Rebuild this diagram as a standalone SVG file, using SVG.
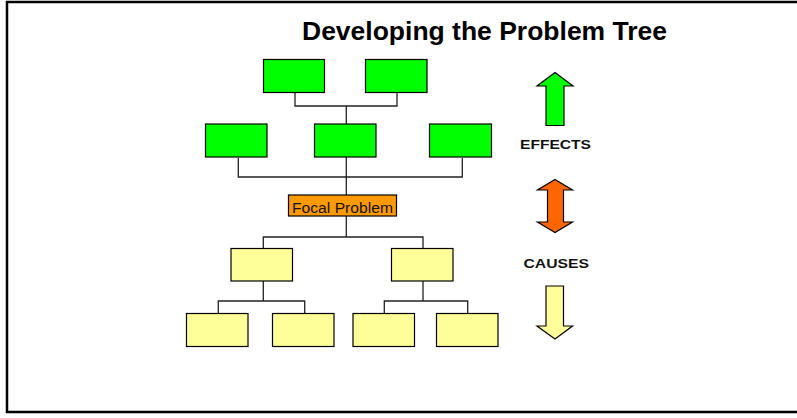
<svg xmlns="http://www.w3.org/2000/svg" width="797" height="418" viewBox="0 0 797 418">
<style>
.box{stroke:#000;stroke-width:1.2}
.g{fill:#00FF00}
.y{fill:#FFFF99}
.o{fill:#FF9900}
.conn{fill:none;stroke:#222;stroke-width:1.3}
.arrow{stroke:#000;stroke-width:1.2;stroke-linejoin:miter}
.lbl{font-family:"Liberation Sans",Arial,sans-serif;font-weight:bold;font-size:13.5px;fill:#111}
</style>
<rect width="797" height="418" fill="#fff"/>
<g id="frame" fill="none" stroke="#000" stroke-width="2.5">
<path d="M800,2 L7,2 L7,412 L800,412"/>
</g>
<text id="title" x="302" y="39.5" font-family="'Liberation Sans',Arial,sans-serif" font-weight="bold" font-size="26.5" textLength="365" lengthAdjust="spacingAndGlyphs" fill="#000">Developing the Problem Tree</text>
<g id="connectors" class="conn">
<path d="M295,93 V106 H397 V93 M346.3,106 V124"/>
<path d="M238.3,158 V177 H462.3 V158 M346.3,157 V195"/>
<path d="M346.3,216 V237 M263.3,248 V237 H423 V248"/>
<path d="M263.3,281 V301 M218.3,313 V301 H304.7 V313"/>
<path d="M423,281 V301 M384.3,313 V301 H467.7 V313"/>
</g>
<g id="e1"><rect class="box g" x="263.5" y="59.5" width="61" height="33"/></g>
<g id="e2"><rect class="box g" x="365.5" y="59.5" width="61.5" height="33"/></g>
<g id="e3"><rect class="box g" x="205.5" y="124" width="61.5" height="33"/></g>
<g id="e4"><rect class="box g" x="314.5" y="124" width="61.5" height="33"/></g>
<g id="e5"><rect class="box g" x="429.5" y="124" width="62" height="33"/></g>
<g id="focal"><rect class="box o" x="288.5" y="195" width="108" height="21"/>
<text x="342.5" y="212.5" text-anchor="middle" font-family="'Liberation Sans',Arial,sans-serif" font-size="14" textLength="101" lengthAdjust="spacingAndGlyphs" fill="#111">Focal Problem</text></g>
<g id="c1"><rect class="box y" x="231" y="248.5" width="61.5" height="32.5"/></g>
<g id="c2"><rect class="box y" x="391.5" y="248.5" width="61.5" height="32.5"/></g>
<g id="c3"><rect class="box y" x="186.5" y="313.5" width="61.5" height="33"/></g>
<g id="c4"><rect class="box y" x="272.5" y="313.5" width="61.5" height="33"/></g>
<g id="c5"><rect class="box y" x="353" y="313.5" width="61.5" height="33"/></g>
<g id="c6"><rect class="box y" x="436.5" y="313.5" width="61.5" height="33"/></g>
<g id="arrow-effects"><polygon class="arrow" fill="#00FF00" points="555,72.5 573,86 564,86 564,125.5 546,125.5 546,86 537,86"/></g>
<g id="label-effects"><text class="lbl" x="520" y="149" textLength="71" lengthAdjust="spacingAndGlyphs">EFFECTS</text></g>
<g id="arrow-both"><polygon class="arrow" fill="#FF6600" points="555,179.5 572.5,190 563.5,190 563.5,222 572.5,222 555,232.5 537.5,222 547.5,222 547.5,190 537.5,190"/></g>
<g id="label-causes"><text class="lbl" x="523.5" y="268.3" textLength="65.5" lengthAdjust="spacingAndGlyphs">CAUSES</text></g>
<g id="arrow-causes"><polygon class="arrow" fill="#FFFF99" points="546,286 563.5,286 563.5,326 572.5,326 555,339 537,326 546,326"/></g>
</svg>
